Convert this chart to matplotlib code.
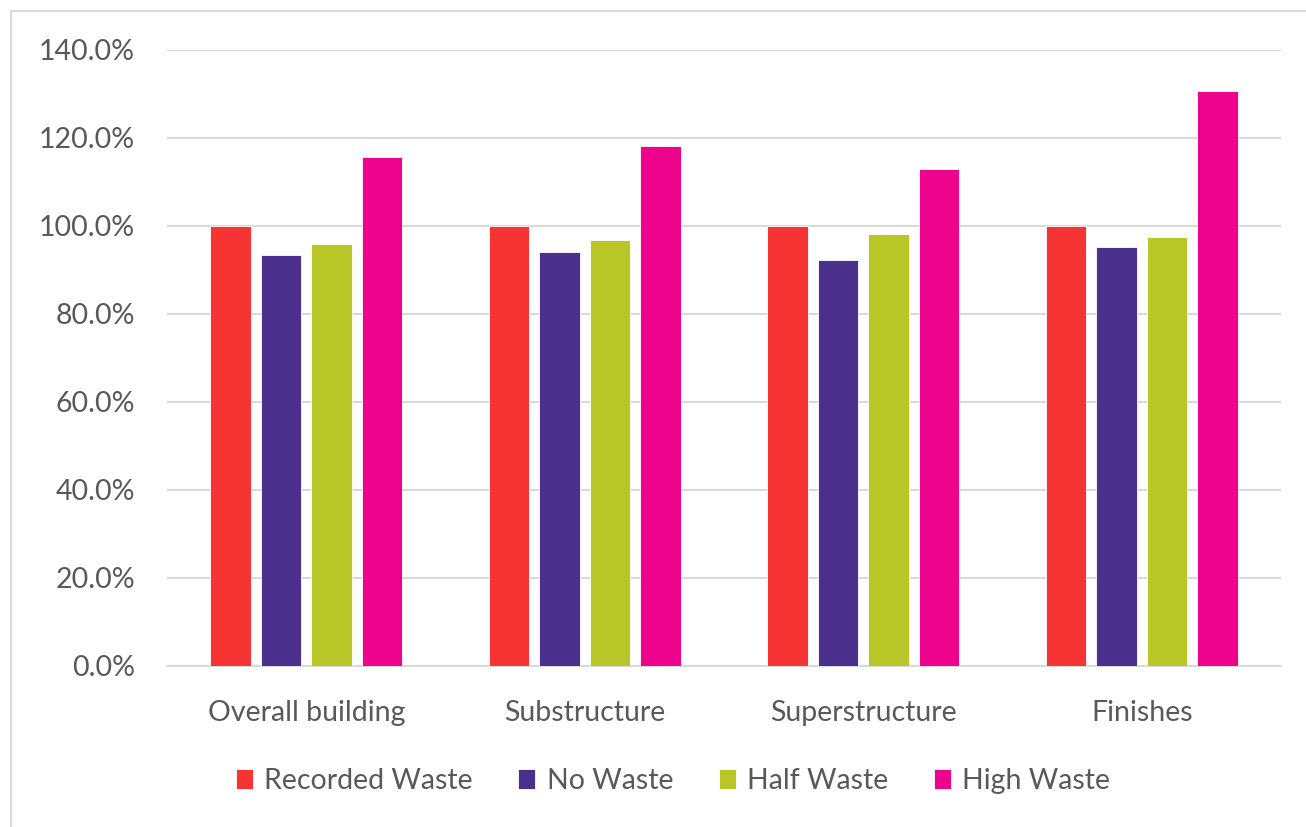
import matplotlib
matplotlib.use("Agg")
from matplotlib import pyplot as plt
from matplotlib.patches import Rectangle
from matplotlib.ticker import FuncFormatter

categories = ["Overall building", "Substructure", "Superstructure", "Finishes"]
series_names = ["Recorded Waste", "No Waste", "Half Waste", "High Waste"]
recorded = [100.0, 100.0, 100.0, 100.0]
no_waste = [93.5, 94.1, 92.3, 95.1]
half_waste = [96.0, 96.9, 98.1, 97.5]
high_waste = [115.7, 118.2, 113.0, 130.6]
colors = ["#F73434", "#4A2F8C", "#B8C628", "#EE038C"]
y_ticks = [0, 20, 40, 60, 80, 100, 120, 140]

plt.rcParams["font.family"] = ["Lato", "DejaVu Sans"]

fig = plt.figure(figsize=(13.06, 8.27), dpi=100)
ax = fig.add_axes([167 / 1306, 1 - 665.7 / 827, (1281 - 167) / 1306, (665.7 - 50) / 827])

# outer chart border (cropped on right/bottom)
fig.patches.append(Rectangle((11 / 1306, -0.1), 1.2, 1 - 11 / 827 + 0.1,
                             transform=fig.transFigure, fill=False,
                             edgecolor="#d9d9d9", linewidth=1.5))

step = 0.181
width = 0.145
all_series = [recorded, no_waste, half_waste, high_waste]
for j, vals in enumerate(all_series):
    xs = [i + (j - 1.5) * step for i in range(len(categories))]
    ax.bar(xs, vals, width=width, color=colors[j], edgecolor="white",
           linewidth=0.6, label=series_names[j], zorder=3)

ax.set_xlim(-0.5, 3.5)
ax.set_ylim(0, 140)
ax.set_yticks(y_ticks)
ax.yaxis.set_major_formatter(FuncFormatter(lambda v, p: f"{v:.1f}%"))
ax.set_xticks(range(len(categories)))
ax.set_xticklabels(categories)
ax.tick_params(axis="both", length=0, labelsize=20.5, colors="#595959")
ax.tick_params(axis="y", pad=23)
ax.tick_params(axis="x", pad=25)
ax.grid(axis="y", color="#d9d9d9", linewidth=1.5, zorder=0)
for s in ["top", "right", "left"]:
    ax.spines[s].set_visible(False)
ax.spines["bottom"].set_color("#d9d9d9")
ax.spines["bottom"].set_linewidth(1.5)

leg = fig.legend(loc="center", bbox_to_anchor=(673 / 1306, 1 - 781 / 827), ncol=4,
                 frameon=False, fontsize=20.5, handlelength=0.6, handleheight=0.65,
                 handletextpad=0.4, columnspacing=1.6)
for t in leg.get_texts():
    t.set_color("#595959")

fig.savefig("out.png", dpi=100, facecolor="white")
